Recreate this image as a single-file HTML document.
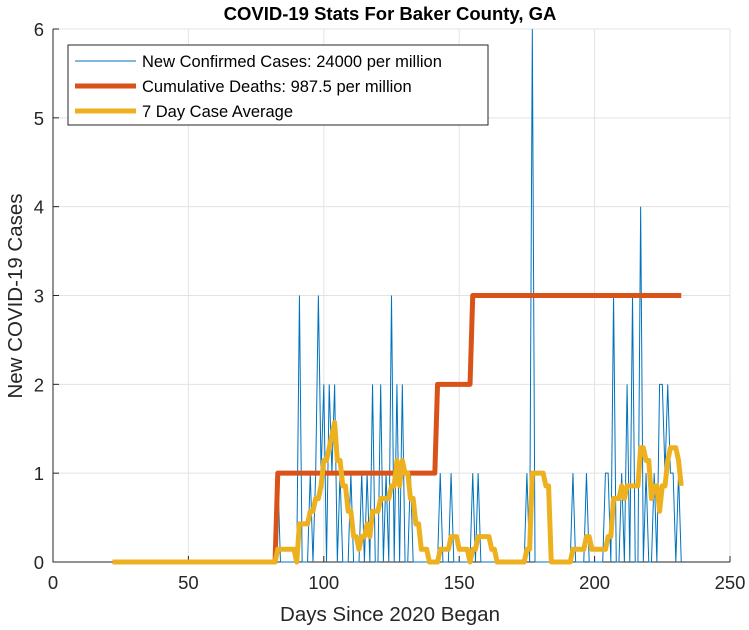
<!DOCTYPE html>
<html><head><meta charset="utf-8"><style>
html,body{margin:0;padding:0;background:#fff;}
svg{display:block;font-family:"Liberation Sans",Arial,sans-serif;}
</style></head><body>
<svg id="chart" width="749" height="630" viewBox="0 0 749 630">
<rect width="749" height="630" fill="#fff"/>
<text x="390" y="20" text-anchor="middle" font-size="18.5" font-weight="bold">COVID-19 Stats For Baker County, GA</text>
<g id="grid"></g>
<g id="axes"></g>
<g id="series"></g>
<text x="390" y="621" text-anchor="middle" font-size="20.5" fill="#262626">Days Since 2020 Began</text>
<text transform="translate(22,296) rotate(-90)" text-anchor="middle" font-size="20.5" fill="#262626">New COVID-19 Cases</text>
<g>
<rect x="68" y="45" width="420" height="80" fill="#fff" stroke="#262626" stroke-width="1"/>
<line x1="75" y1="61" x2="136" y2="61" stroke="#0072BD" stroke-width="1"/>
<line x1="75" y1="86" x2="136" y2="86" stroke="#D95319" stroke-width="5"/>
<line x1="75" y1="111" x2="136" y2="111" stroke="#EDB120" stroke-width="5"/>
<text x="142" y="67" font-size="16.5" fill="#000">New Confirmed Cases: 24000 per million</text>
<text x="142" y="92" font-size="16.5" fill="#000">Cumulative Deaths: 987.5 per million</text>
<text x="142" y="117" font-size="16.5" fill="#000">7 Day Case Average</text>
</g>
</svg>
<script>
const xTicks = [0, 50, 100, 150, 200, 250];
const yTicks = [0, 1, 2, 3, 4, 5, 6];
const firstDay = 22;
const lastDay = 232;
const caseDays = [83,91,95,97,98,99,100,102,103,104,106,110,114,116,118,121,123,125,127,129,132,143,147,155,157,175,177,192,197,204,205,207,210,212,214,217,219,222,224,225,226,227,228,229,231];
const caseCounts = [1,3,1,1,3,1,2,2,1,2,1,1,1,1,2,2,1,3,2,2,1,1,1,1,1,1,6,1,1,1,1,3,1,2,3,4,1,1,2,2,1,2,1,1,1];
const deathDays = [83,142,155];
const deathIncrements = [1,1,1];

const X0=53, X1=730, Y0=562, Y1=29;
const xs = d => X0 + (d-0)/(250-0)*(X1-X0);
const ys = v => Y0 - v/6*(Y0-Y1);
const NS="http://www.w3.org/2000/svg";
function mk(tag, attrs, parent){const e=document.createElementNS(NS,tag);for(const k in attrs)e.setAttribute(k,attrs[k]);parent.appendChild(e);return e;}
const grid=document.getElementById('grid'), axes=document.getElementById('axes'), series=document.getElementById('series');

xTicks.forEach(t=>{
  const l=mk('line',{x1:xs(t),x2:xs(t),y1:Y1,y2:Y0,stroke:'#e3e3e3','stroke-width':1},grid);
  
  
  mk('line',{x1:xs(t),x2:xs(t),y1:Y0,y2:Y0-6,stroke:'#262626','stroke-width':1},axes);
  const tx=mk('text',{x:xs(t),y:Y0+27,'text-anchor':'middle','font-size':18.5,fill:'#262626'},axes);
  tx.textContent=t;
  
  
});
yTicks.forEach(t=>{
  const l=mk('line',{x1:X0,x2:X1,y1:ys(t),y2:ys(t),stroke:'#e3e3e3','stroke-width':1},grid);
  
  
  mk('line',{x1:X0,x2:X0+6,y1:ys(t),y2:ys(t),stroke:'#262626','stroke-width':1},axes);
  const tx=mk('text',{x:X0-9,y:ys(t)+7,'text-anchor':'end','font-size':18.5,fill:'#262626'},axes);
  tx.textContent=t;
  
  
});
const ax=mk('path',{d:`M${X0},${Y1}V${Y0}H${X1}`,fill:'none',stroke:'#262626','stroke-width':1},axes);



const days=[], cases=[], deaths=[], avg=[];
for(let d=firstDay; d<=lastDay; d++){
  days.push(d);
  const i=caseDays.indexOf(d);
  cases.push(i>=0?caseCounts[i]:0);
  let c=0; deathDays.forEach((dd,j)=>{if(d>=dd)c+=deathIncrements[j];});
  deaths.push(c);
}
for(let i=0;i<cases.length;i++){
  let s=0; for(let k=Math.max(0,i-6);k<=i;k++)s+=cases[k];
  avg.push(s/7);
}
function pathFrom(vals){return vals.map((v,i)=>(i?'L':'M')+xs(days[i]).toFixed(2)+','+ys(v).toFixed(2)).join('');}
const pc=mk('path',{d:pathFrom(cases),fill:'none',stroke:'#0072BD','stroke-width':1},series);


const pd=mk('path',{d:pathFrom(deaths),fill:'none',stroke:'#D95319','stroke-width':5,'stroke-linejoin':'round'},series);


const pa=mk('path',{d:pathFrom(avg),fill:'none',stroke:'#EDB120','stroke-width':5,'stroke-linejoin':'round'},series);


</script>
</body></html>
